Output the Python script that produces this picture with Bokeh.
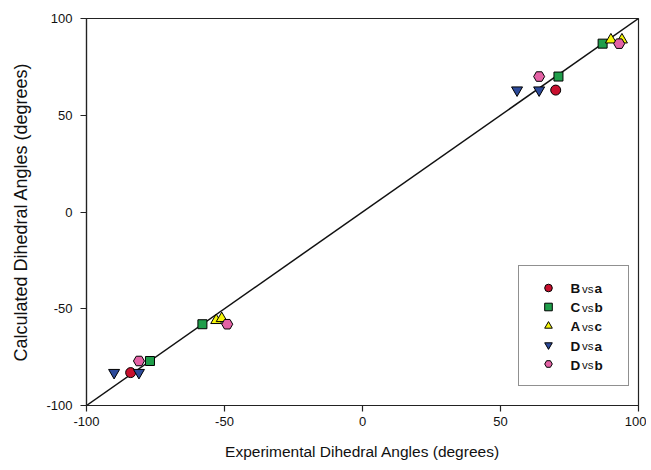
from bokeh.plotting import figure
from bokeh.models import Range1d, Legend, LegendItem, Label, FixedTicker
from bokeh.embed import file_html
from bokeh.resources import INLINE

# ---- data ----
ticks = [-100, -50, 0, 50, 100]
tick_labels = {-100: "-100", -50: "-50", 0: "0", 50: "50", 100: "100"}
diag = [-100, 100]

ba_x = [-84, 70]
ba_y = [-83, 63]
cb_x = [-77, -58, 71, 87]
cb_y = [-77, -58, 70, 87]
ac_x = [-53, -51, 90, 94]
ac_y = [-56, -55, 89, 89]
da_x = [-90, -81, 56, 64]
da_y = [-83, -83, 63, 63]
db_x = [-81, -49, 64, 93]
db_y = [-77, -58, 70, 87]

series_names = [("B", "a"), ("C", "b"), ("A", "c"), ("D", "a"), ("D", "b")]

FONT = "Liberation Sans"

p = figure(width=646, height=466, output_backend="svg", toolbar_location=None,
           x_range=Range1d(-100, 100), y_range=Range1d(-100, 100),
           min_border_left=86, min_border_right=8, min_border_top=18, min_border_bottom=61)
p.grid.visible = False
p.outline_line_color = "#222222"
p.outline_line_width = 1.2
p.background_fill_color = "white"
p.border_fill_color = "white"

for ax in (p.xaxis[0], p.yaxis[0]):
    ax.ticker = FixedTicker(ticks=ticks)
    ax.major_label_overrides = tick_labels
    ax.minor_tick_line_color = None
    ax.major_tick_in = 0
    ax.major_tick_out = 6
    ax.axis_line_color = "#222222"
    ax.axis_line_width = 1.2
    ax.major_tick_line_color = "#222222"
    ax.major_tick_line_width = 1.2
    ax.major_label_text_font = FONT
    ax.major_label_text_font_size = "13px"
    ax.major_label_text_color = "#111111"
    ax.axis_label_text_font = FONT
    ax.axis_label_text_font_style = "normal"
    ax.axis_label_text_color = "#111111"

p.xaxis.axis_label = "Experimental Dihedral Angles (degrees)"
p.yaxis.axis_label = "Calculated Dihedral Angles (degrees)"
p.xaxis.axis_label_text_font_size = "15.5px"
p.yaxis.axis_label_text_font_size = "18px"
p.xaxis.major_label_standoff = 5
p.yaxis.major_label_standoff = 8
p.xaxis.axis_label_standoff = 14
p.yaxis.axis_label_standoff = 12

p.line(diag, diag, line_color="#111111", line_width=1.5)

r1 = p.scatter(ba_x, ba_y, marker="circle", size=10, fill_color="#c8102e", line_color="black", line_width=1)
r2 = p.scatter(cb_x, cb_y, marker="square", size=9, fill_color="#1f9e4a", line_color="black", line_width=1)
r3 = p.scatter(ac_x, ac_y, marker="triangle", size=11, fill_color="#f5f50a", line_color="black", line_width=1)
r4 = p.scatter(da_x, da_y, marker="inverted_triangle", size=11, fill_color="#2c4a9a", line_color="black", line_width=1)
r5 = p.scatter(db_x, db_y, marker="hex", size=11, fill_color="#e462a5", line_color="black", line_width=1)

renderers = [r1, r2, r3, r4, r5]
legend = Legend(items=[LegendItem(label=" ", renderers=[r]) for r in renderers],
                location=(432, 19), margin=0, padding=12, spacing=0,
                glyph_height=19, glyph_width=34, label_height=19, label_width=47,
                label_standoff=4, border_line_color="#222222", border_line_width=1.2,
                background_fill_alpha=0.0, label_text_font_size="12px")
p.add_layout(legend)

# mixed-weight legend labels
row0 = 405 - 288
for i, (a, b) in enumerate(series_names):
    y = row0 - 19.2 * i
    p.add_layout(Label(x=484, y=y, x_units="screen", y_units="screen", text=a, level="overlay",
                       text_font=FONT, text_font_style="bold", text_font_size="13.5px",
                       text_baseline="middle", text_align="left", text_color="#111111"))
    p.add_layout(Label(x=495.5, y=y, x_units="screen", y_units="screen", text="vs", level="overlay",
                       text_font=FONT, text_font_style="normal", text_font_size="11.5px",
                       text_baseline="middle", text_align="left", text_color="#111111"))
    p.add_layout(Label(x=508, y=y, x_units="screen", y_units="screen", text=b, level="overlay",
                       text_font=FONT, text_font_style="bold", text_font_size="13.5px",
                       text_baseline="middle", text_align="left", text_color="#111111"))

open("out.html", "w").write(file_html(p, INLINE))
